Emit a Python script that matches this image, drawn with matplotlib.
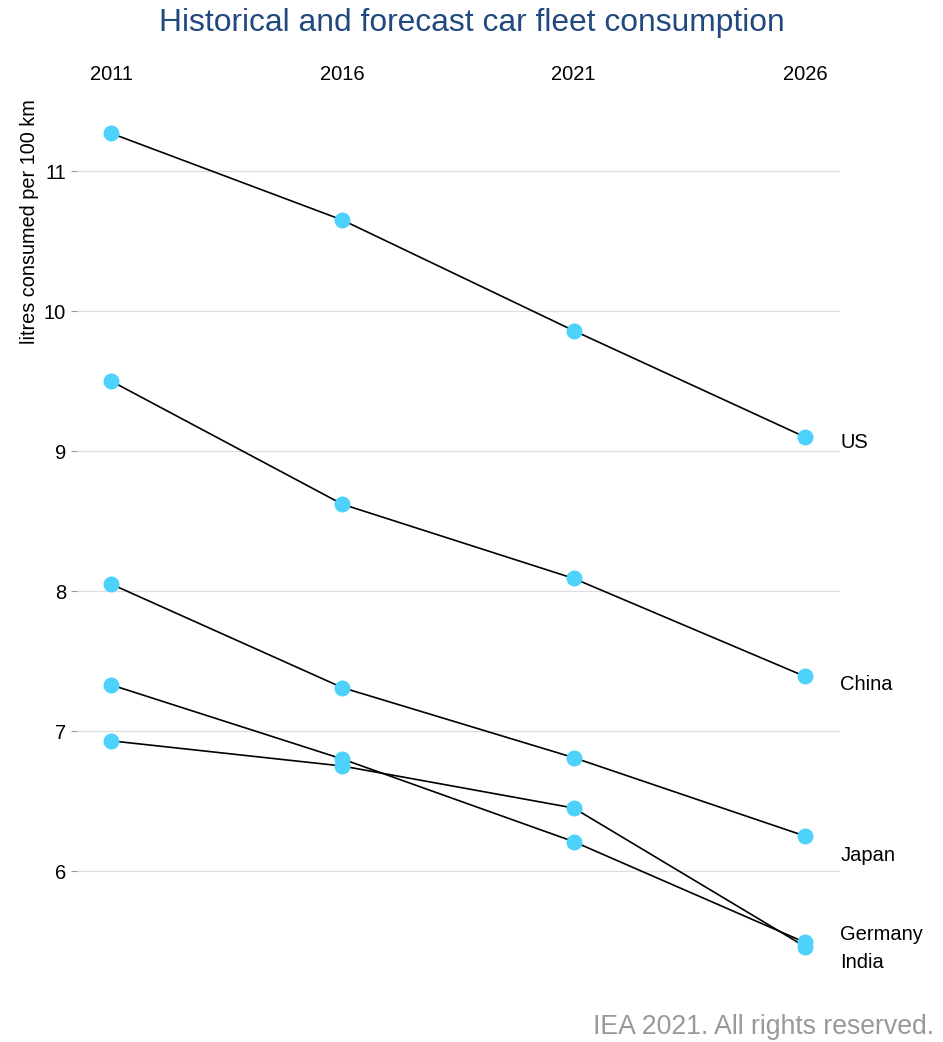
import matplotlib.pyplot as plt

plt.rcParams['font.family'] = ['Liberation Sans', 'DejaVu Sans']

years = [2011, 2016, 2021, 2026]
us = [11.27, 10.65, 9.86, 9.10]
china = [9.50, 8.62, 8.09, 7.39]
japan = [8.05, 7.31, 6.81, 6.25]
germany = [7.33, 6.80, 6.21, 5.49]
india = [6.93, 6.75, 6.45, 5.46]

series = [('US', us), ('China', china), ('Japan', japan),
          ('Germany', germany), ('India', india)]
# vertical nudge for the end labels so they don't collide
label_shift = {'US': -0.04, 'China': -0.06, 'Japan': -0.14,
               'Germany': 0.06, 'India': -0.11}

fig = plt.figure(figsize=(9.43, 10.42), dpi=100)
ax = fig.add_axes([0.082, 0.0566, 0.809, 0.8464])

for name, vals in series:
    ax.plot(years, vals, color='black', lw=1.2, zorder=2)
for name, vals in series:
    ax.plot(years, vals, 'o', color='#4dd2fc', ms=11.5, mec='none', zorder=3)
    ax.text(2026.76, vals[-1] + label_shift[name], name, fontsize=14.5,
            va='center', ha='left')

ax.set_xlim(2010.27, 2026.76)
ax.set_ylim(5.2, 11.5)
ax.set_xticks(years)
ax.set_yticks([6, 7, 8, 9, 10, 11])
ax.xaxis.tick_top()
ax.tick_params(axis='x', length=0, labelsize=14.5, pad=12)
ax.tick_params(axis='y', length=4, color='#999999', labelsize=14.5, pad=4)
ax.grid(axis='y', color='#dddddd', lw=0.9)
ax.set_axisbelow(True)
for s in ax.spines.values():
    s.set_visible(False)
ax.set_ylabel('litres consumed per 100 km', fontsize=14.3)
ax.yaxis.set_label_coords(-0.05, 0.863)

fig.text(0.5, 0.978, 'Historical and forecast car fleet consumption',
         ha='center', va='center', fontsize=22.9, color='#21497f')
fig.text(0.99, 0.014, 'IEA 2021. All rights reserved.', ha='right',
         va='center', fontsize=19.2, color='#999999')

fig.savefig('out.png', dpi=100)
